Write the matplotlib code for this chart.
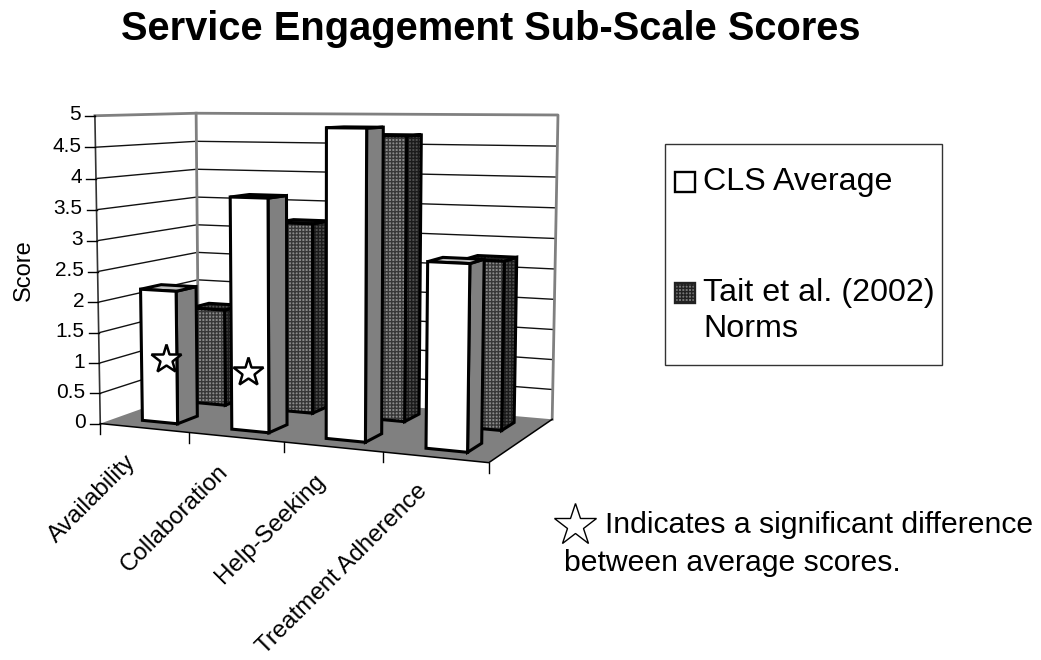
import matplotlib
matplotlib.use('Agg')
import matplotlib.pyplot as plt
from matplotlib.patches import Polygon, Rectangle
import numpy as np

# data
categories = ['Availability', 'Collaboration', 'Help-Seeking', 'Treatment Adherence']
cls_average = [2.18, 3.73, 4.83, 2.85]
tait_norms = [1.66, 3.2, 4.67, 2.72]
y_ticks = [0, 0.5, 1, 1.5, 2, 2.5, 3, 3.5, 4, 4.5, 5]
y_tick_labels = ['0', '0.5', '1', '1.5', '2', '2.5', '3', '3.5', '4', '4.5', '5']

plt.rcParams['font.family'] = ['Liberation Sans', 'DejaVu Sans']
plt.rcParams['hatch.linewidth'] = 1.0

Y_MAX = 5.0
GRAY = '#808080'

# visible corners of the 3d box: (u along front, depth, value / max) -> image pixel
BOX_POINTS = [((0, 0, 0), (100, 423)), ((1, 0, 0), (489, 463)), ((1, 1, 0), (552, 419)), ((0, 1, 0), (199, 389)),
              ((0, 0, 1), (95, 116)), ((1, 1, 1), (558, 115)), ((0, 1, 1), (196, 113))]


def fit_camera(points):
    a = []
    for (u, d, v), (x, y) in points:
        a.append([u, d, v, 1, 0, 0, 0, 0, -x * u, -x * d, -x * v, -x])
        a.append([0, 0, 0, 0, u, d, v, 1, -y * u, -y * d, -y * v, -y])
    return np.linalg.svd(np.array(a, float))[2][-1].reshape(3, 4)


CAMERA = fit_camera(BOX_POINTS)


def project(cat, depth, value):
    # cat: 0..n categories along the front, depth: 0 front .. 1 back, value: score
    p = CAMERA @ np.array([cat / len(categories), depth, value / Y_MAX, 1.0])
    return (p[0] / p[2], p[1] / p[2])


def face(ax, pts, color, hatch_color=None, zorder=3):
    if hatch_color:
        ax.add_patch(Polygon(pts, closed=True, facecolor=color, edgecolor=hatch_color,
                             hatch='+++++', lw=0, zorder=zorder))
    else:
        ax.add_patch(Polygon(pts, closed=True, facecolor=color, edgecolor='none', zorder=zorder))
    ax.add_patch(Polygon(pts, closed=True, fill=False, edgecolor='black', lw=2.2,
                         joinstyle='miter', zorder=zorder))


def draw_bar(ax, i, value, d0, d1, front, side, top, hatch_front=None, hatch_side=None, zorder=3):
    c0, c1 = i + 0.3, i + 0.7
    face(ax, [project(c1, d0, 0), project(c1, d1, 0), project(c1, d1, value), project(c1, d0, value)],
         side, hatch_side, zorder)
    face(ax, [project(c0, d0, value), project(c1, d0, value), project(c1, d1, value), project(c0, d1, value)],
         top, hatch_side, zorder)
    face(ax, [project(c0, d0, 0), project(c1, d0, 0), project(c1, d0, value), project(c0, d0, value)],
         front, hatch_front, zorder)


def main():
    fig = plt.figure(figsize=(10.41, 6.6), dpi=100)
    ax = fig.add_axes([0, 0, 1, 1])
    ax.set_xlim(0, 1041)
    ax.set_ylim(660, 0)
    ax.axis('off')

    n = len(categories)

    # gridlines on both walls
    for v in y_ticks[1:-1]:
        ax.plot(*zip(project(0, 0, v), project(0, 1, v), project(n, 1, v)), color='#111111', lw=1.0, zorder=1.5)

    # wall frame
    ax.plot(*zip(project(0, 0, Y_MAX), project(0, 1, Y_MAX), project(n, 1, Y_MAX), project(n, 1, 0)),
            color=GRAY, lw=2.0, zorder=1.6)
    ax.plot(*zip(project(0, 1, 0), project(0, 1, Y_MAX)), color=GRAY, lw=2.0, zorder=1.6)
    ax.plot(*zip(project(0, 0, 0), project(0, 0, Y_MAX)), color='#333333', lw=1.2, zorder=1.7)

    # floor
    ax.add_patch(Polygon([project(0, 0, 0), project(n, 0, 0), project(n, 1, 0), project(0, 1, 0)],
                         facecolor=GRAY, edgecolor='none', zorder=2))
    ax.plot(*zip(project(0, 0, 0), project(n, 0, 0), project(n, 1, 0)), color='black', lw=1.1, zorder=2.1)

    # y ticks and labels
    for v, lab in zip(y_ticks, y_tick_labels):
        x, y = project(0, 0, v)
        ax.plot([x - 10, x], [y, y], color='black', lw=1.0, zorder=2)
        ax.text(x - 14, y - 1, lab, ha='right', va='center', fontsize=15)

    # x ticks
    for i in range(n + 1):
        x, y = project(i, 0, 0)
        ax.plot([x, x], [y, y + 10], color='black', lw=1.0, zorder=2)

    # category labels
    for i, lab in enumerate(categories):
        x, y = project(i + 0.5, 0, 0)
        ax.text(x - 19, y + 23, lab, rotation=45, rotation_mode='anchor', ha='right', va='top', fontsize=17.4)

    ax.text(24, 270, 'Score', rotation=90, ha='center', va='center', fontsize=17)

    # bars: back row first
    for i, v in enumerate(tait_norms):
        draw_bar(ax, i, v, 0.65, 0.85, '#8c8c8c', '#505050', '#505050', '#383838', '#1c1c1c', zorder=3 + i * 0.1)
    for i, v in enumerate(cls_average):
        draw_bar(ax, i, v, 0.15, 0.35, 'white', GRAY, '#c0c0c0', zorder=4 + i * 0.1)

    # significance stars
    star = dict(marker='*', markerfacecolor='white', markeredgecolor='black', linestyle='none', zorder=6)
    ax.plot([166], [359], markersize=22, markeredgewidth=1.8, **star)
    ax.plot([248], [372], markersize=22, markeredgewidth=1.8, **star)
    ax.plot([575], [525], markersize=32, markeredgewidth=1.0, **star)

    # title
    ax.text(491, 29, 'Service Engagement Sub-Scale Scores', ha='center', va='center',
            fontsize=28.7, fontweight='bold')

    # legend box
    ax.add_patch(Rectangle((664.5, 143.5), 277, 221, facecolor='white', edgecolor='#333333', lw=1.0, zorder=2))
    ax.add_patch(Rectangle((675, 172), 20, 20, facecolor='white', edgecolor='black', lw=1.7, zorder=3))
    ax.add_patch(Rectangle((675, 283), 20, 20, facecolor='#777777', edgecolor='#222222', hatch='+++++', lw=1.7, zorder=3))
    ax.text(703, 182, 'CLS Average', ha='left', va='center', fontsize=23.2)
    ax.text(703, 293, 'Tait et al. (2002)', ha='left', va='center', fontsize=23.2)
    ax.text(703, 329, 'Norms', ha='left', va='center', fontsize=23.2)

    # note
    ax.text(605, 525, 'Indicates a significant difference', ha='left', va='center', fontsize=21.7)
    ax.text(564, 563, 'between average scores.', ha='left', va='center', fontsize=21.7)

    plt.savefig('out.png', format='png', dpi=100)


if __name__ == '__main__':
    main()
